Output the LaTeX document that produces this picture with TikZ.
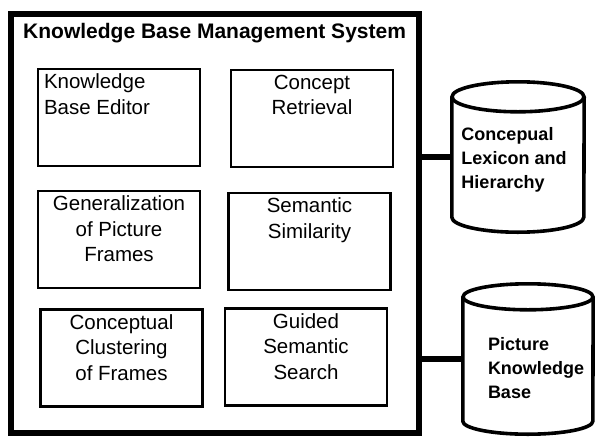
\documentclass[tikz,border=0pt]{standalone}
\usepackage{fontspec}
\setmainfont{Liberation Sans}
\usetikzlibrary{positioning}
\begin{document}
\begin{tikzpicture}[x=1pt,y=-1pt,
	module/.style={draw,line width=2.4pt,minimum width=162pt,minimum height=97pt},
	modtext/.style={inner sep=0pt,align=center,font=\fontsize{20.5}{25.5}\selectfont},
	store/.style={inner sep=0pt,align=left,font=\bfseries\fontsize{18}{24}\selectfont},
	storeline/.style={line width=3.6pt},
	link/.style={line width=6pt}]
	\useasboundingbox (0,0) rectangle (595,437);
	\node[draw,line width=6.5pt,minimum width=408pt,minimum height=419pt] (kbms) at (215,223.5) {};
	\node[anchor=base west,inner sep=0pt,font=\bfseries\fontsize{21}{24}\selectfont] (title) at (23,38) {Knowledge Base Management System};
	\node[module] (editor) at (119,117.5) {};
	\node[module] (retrieval) at (312,118.5) {};
	\node[module] (general) at (119,239.5) {};
	\node[module] (similar) at (309.5,241.5) {};
	\node[module] (cluster) at (121.5,358) {};
	\node[module] (search) at (306,357) {};
	\node[modtext,align=left,below right=6pt and 7pt of editor.north west] (editor-t) {Knowledge\\Base Editor};
	\node[modtext,below=6pt of retrieval.north] (retrieval-t) {Concept\\Retrieval};
	\node[modtext,below=6pt of general.north] (general-t) {Generalization\\of Picture\\Frames};
	\node[modtext,below=6pt of similar.north] (similar-t) {Semantic\\Similarity};
	\node[modtext,below=6pt of cluster.north] (cluster-t) {Conceptual\\Clustering\\of Frames};
	\node[modtext,below=6pt of search.north] (search-t) {Guided\\Semantic\\Search};
	\node[store,minimum width=132pt,minimum height=120pt] (lexicon) at (518,157) {};
	\node[store,minimum width=130pt,minimum height=124pt] (pkb) at (528,359) {};
	\draw[storeline] (lexicon.north west) -- (lexicon.south west) arc[start angle=180,end angle=0,x radius=66,y radius=15] -- (lexicon.north east);
	\draw[storeline] (lexicon.north) ellipse[x radius=66,y radius=15];
	\draw[storeline] (pkb.north west) -- (pkb.south west) arc[start angle=180,end angle=0,x radius=65,y radius=13] -- (pkb.north east);
	\draw[storeline] (pkb.north) ellipse[x radius=65,y radius=13];
	\node[store] (lexicon-t) at (514,160) {Concepual\\Lexicon and\\Hierarchy};
	\node[store] (pkb-t) at (536,368) {Picture\\Knowledge\\Base};
	\draw[link] (lexicon.west -| kbms.east) -- (lexicon.west);
	\draw[link] (pkb.west -| kbms.east) -- (pkb.west);
\end{tikzpicture}
\end{document}
